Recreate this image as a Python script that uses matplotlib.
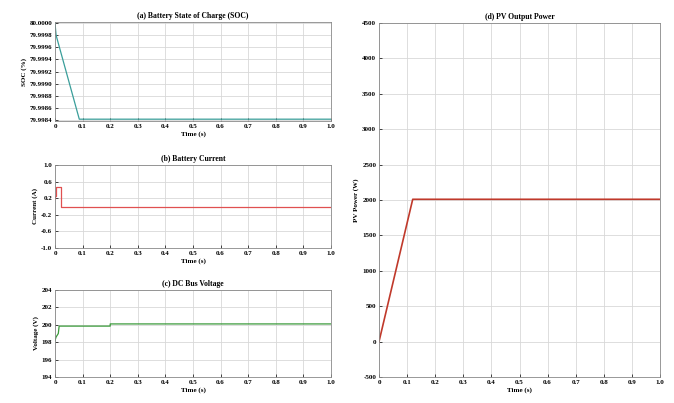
import matplotlib
matplotlib.use("Agg")
import matplotlib.pyplot as plt

# ---- data ----
soc_t = [0.0, 0.004, 0.088, 1.0]
soc_v = [80.00000, 79.99980, 79.99841, 79.99841]

cur_t = [0.0, 0.0, 0.004, 0.004, 0.02, 0.02, 1.0]
cur_v = [0.20, 0.25, 0.25, 0.48, 0.48, -0.02, -0.02]

volt_t = [0.0, 0.004, 0.012, 0.015, 0.2, 0.2, 1.0]
volt_v = [198.2, 198.6, 199.0, 199.85, 199.85, 200.1, 200.1]

pv_t = [0.0, 0.12, 1.0]
pv_v = [0.0, 2010.0, 2010.0]

x_ticks = [0, 0.1, 0.2, 0.3, 0.4, 0.5, 0.6, 0.7, 0.8, 0.9, 1.0]
x_labels = ["0", "0.1", "0.2", "0.3", "0.4", "0.5", "0.6", "0.7", "0.8", "0.9", "1.0"]
soc_ticks = [79.9984, 79.9986, 79.9988, 79.9990, 79.9992, 79.9994, 79.9996, 79.9998, 80.0000]
cur_ticks = [-1.0, -0.6, -0.2, 0.2, 0.6, 1.0]
volt_ticks = [194, 196, 198, 200, 202, 204]
pv_ticks = [-500, 0, 500, 1000, 1500, 2000, 2500, 3000, 3500, 4000, 4500]

plt.rcParams['font.family'] = ['Liberation Serif', 'DejaVu Serif']
plt.rcParams['font.weight'] = 'bold'

W, H = 674, 403
fig = plt.figure(figsize=(W / 100, H / 100), dpi=100)

def ax_px(x0, y0, x1, y1):
    return fig.add_axes([x0 / W, 1 - y1 / H, (x1 - x0) / W, (y1 - y0) / H])

def style(ax, title, ylabel, yticks, ylabels, ylim):
    ax.set_xlim(0, 1.0)
    ax.set_xticks(x_ticks)
    ax.set_xticklabels(x_labels)
    ax.set_yticks(yticks)
    ax.set_yticklabels(ylabels)
    ax.set_ylim(*ylim)
    ax.grid(True, color='#d8d8d8', linewidth=0.6)
    ax.tick_params(labelsize=5, length=2, width=0.5, direction='in', pad=2)
    for s in ax.spines.values():
        s.set_color('#888888')
        s.set_linewidth(0.6)
    ax.set_title(title, fontsize=5.5, fontweight='bold', pad=3)
    ax.set_xlabel("Time (s)", fontsize=5, fontweight='bold', labelpad=2)
    ax.set_ylabel(ylabel, fontsize=5, fontweight='bold', labelpad=2)

ax1 = ax_px(55, 22, 331, 121)
ax1.plot(soc_t, soc_v, color='#3a9e9a', linewidth=0.9)
style(ax1, "(a) Battery State of Charge (SOC)", "SOC (%)", soc_ticks,
      ["%.4f" % v for v in soc_ticks], (79.99838, 80.00002))

ax2 = ax_px(55, 165, 331, 248)
ax2.plot(cur_t, cur_v, color='#e05050', linewidth=0.9)
style(ax2, "(b) Battery Current", "Current (A)", cur_ticks,
      ["%.1f" % v for v in cur_ticks], (-1.0, 1.0))

ax3 = ax_px(55, 290, 331, 377)
ax3.plot(volt_t, volt_v, color='#3a9a3a', linewidth=0.9)
style(ax3, "(c) DC Bus Voltage", "Voltage (V)", volt_ticks,
      [str(v) for v in volt_ticks], (194, 204))

ax4 = ax_px(379, 23, 660, 377)
ax4.plot(pv_t, pv_v, color='#c0392b', linewidth=1.2)
style(ax4, "(d) PV Output Power", "PV Power (W)", pv_ticks,
      [str(v) for v in pv_ticks], (-500, 4500))

fig.savefig("out.png", dpi=100)
